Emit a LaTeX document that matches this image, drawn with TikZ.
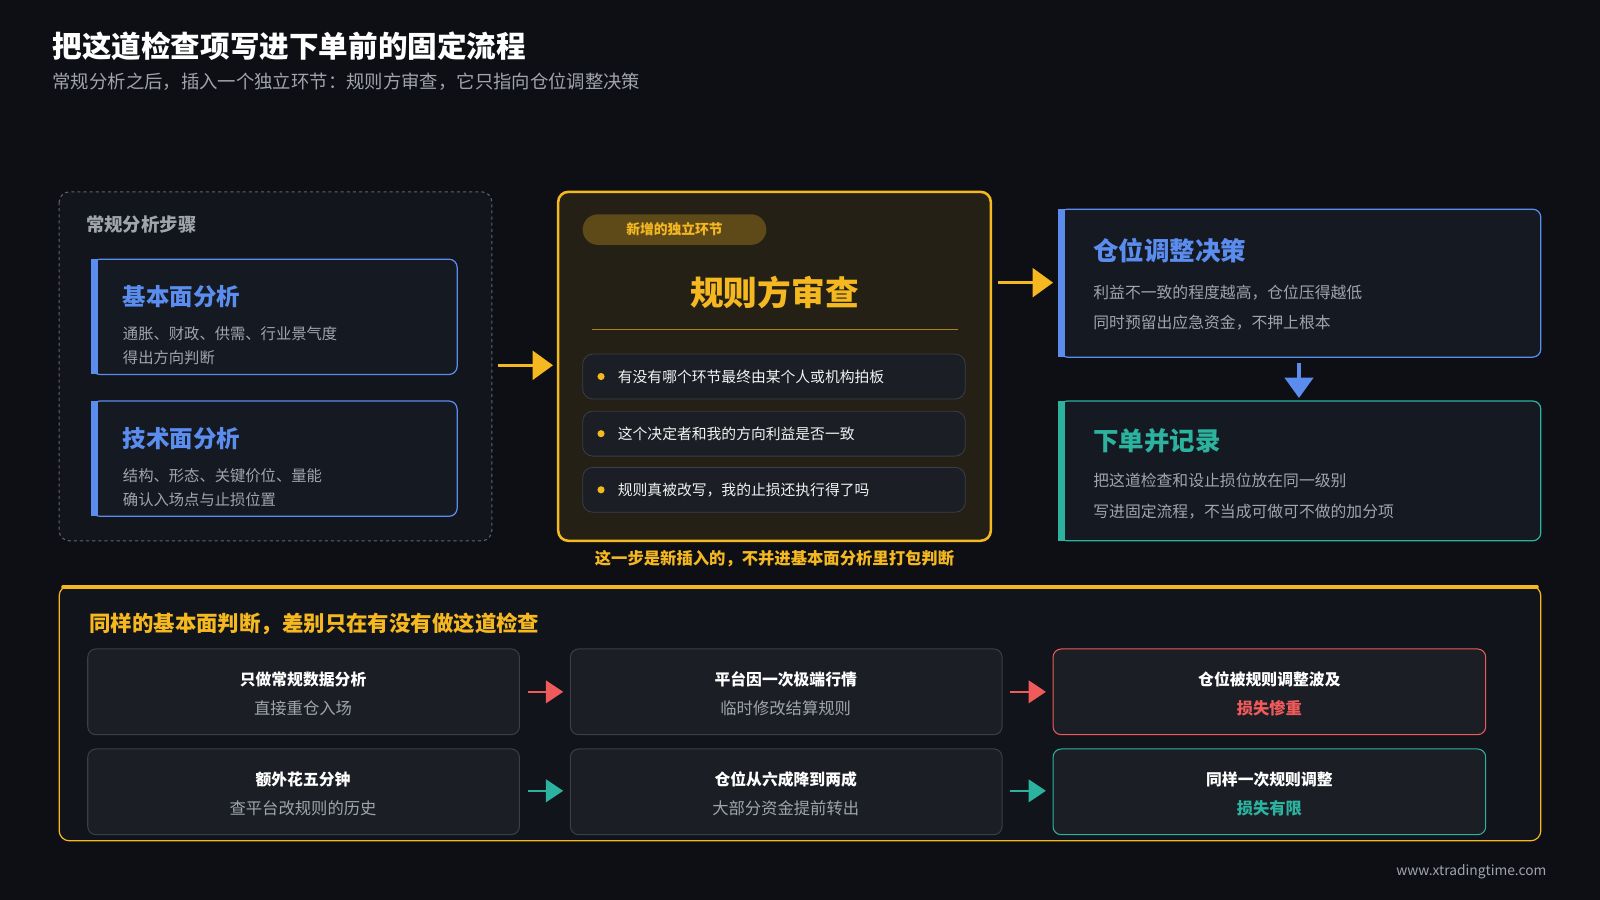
\documentclass[tikz,border=0pt]{standalone}
\usepackage{fontspec}
\setmainfont{Noto Sans CJK SC}
\usetikzlibrary{arrows.meta,positioning}
\definecolor{bgc}{HTML}{0D0F14}
\definecolor{panel}{HTML}{151922}
\definecolor{cell}{HTML}{1B1E25}
\definecolor{bluec}{HTML}{5B8DEF}
\definecolor{yel}{HTML}{F5B820}
\definecolor{tealc}{HTML}{2BB3A0}
\definecolor{redc}{HTML}{EF5A5A}
\definecolor{grayt}{HTML}{A0A4AB}
\definecolor{edge}{HTML}{3A3E47}
\tikzset{
  card/.style={draw=#1, line width=1.2pt, rounded corners=8pt, fill=panel},
  bar/.style={fill=#1},
  cardtitle/.style={anchor=west, font=\bfseries\fontsize{23}{27}\selectfont, text=#1},
  body/.style={anchor=west, font=\fontsize{15}{18}\selectfont, text=grayt},
  item/.style={draw=edge, line width=0.8pt, rounded corners=10pt, fill=cell},
  itemtext/.style={anchor=west, font=\fontsize{14.5}{17}\selectfont, text=white!90!gray},
  sell/.style={draw=#1, line width=1pt, rounded corners=8pt, fill=cell},
  celltop/.style={font=\bfseries\fontsize{15.5}{18}\selectfont, text=white},
  cellbot/.style={font=\fontsize{16}{19}\selectfont, text=#1},
  fat/.style={draw=#1, line width=3.5pt, -{Triangle[length=20pt,width=28pt]}},
}
\begin{document}
\begin{tikzpicture}[x=1pt,y=-1pt]
\useasboundingbox[fill=bgc] (0,0) rectangle (1568,882);

% heading
\node[anchor=west, font=\bfseries\fontsize{29}{33}\selectfont, text=white] (title) at (48,45) {把这道检查项写进下单前的固定流程};
\node[anchor=west, font=\fontsize{18}{21}\selectfont, text=grayt] (subtitle) at (48,80) {常规分析之后，插入一个独立环节：规则方审查，它只指向仓位调整决策};

% regular analysis group
\draw[edge!80!white, dashed, line width=1pt, rounded corners=10pt, fill=panel!60!bgc] (58,188) rectangle (482,530);
\node[anchor=west, font=\bfseries\fontsize{18}{21}\selectfont, text=grayt] (grp) at (81,220) {常规分析步骤};
\draw[card=bluec] (90,254) rectangle (448,367);
\fill[bar=bluec] (89,254) rectangle (96,367);
\node[cardtitle=bluec] (fund) at (117,291) {基本面分析};
\node[body] (fund1) at (117,327) {通胀、财政、供需、行业景气度};
\node[body] (fund2) at (117,351) {得出方向判断};
\draw[card=bluec] (90,393) rectangle (448,506);
\fill[bar=bluec] (89,393) rectangle (96,506);
\node[cardtitle=bluec] (tech) at (117,430) {技术面分析};
\node[body] (tech1) at (117,466) {结构、形态、关键价位、量能};
\node[body] (tech2) at (117,490) {确认入场点与止损位置};

\coordinate (a1) at (488,358);
\coordinate (a2) at (542,358);
\draw[fat=yel] (a1) -- (a2);

% review box
\draw[draw=yel, line width=2.5pt, rounded corners=10pt, fill=yel!10!bgc] (547,188) rectangle (971,530);
\node[fill=yel!35!bgc, rounded corners=15pt, minimum width=180pt, minimum height=30pt, font=\bfseries\fontsize{13.5}{16}\selectfont, text=yel] (tag) at (661,225) {新增的独立环节};
\node[font=\bfseries\fontsize{33}{37}\selectfont, text=yel] (review) at (759,287) {规则方审查};
\draw[yel!70!black, line width=1pt] (580,323) -- (939,323);
\foreach \y/\t in {369/有没有哪个环节最终由某个人或机构拍板, 425/这个决定者和我的方向利益是否一致, 480/规则真被改写，我的止损还执行得了吗}{
  \draw[item] (571,\y-22) rectangle (946,\y+22);
  \fill[yel] (589,\y) circle (3.5pt);
  \node[itemtext] at (602,\y) {\t};
}
\node[font=\bfseries\fontsize{16}{19}\selectfont, text=yel] (note) at (759,548) {这一步是新插入的，不并进基本面分析里打包判断};

\coordinate (b1) at (978,277);
\coordinate (b2) at (1032,277);
\draw[fat=yel] (b1) -- (b2);

% decision
\draw[card=bluec] (1038,205) rectangle (1510,350);
\fill[bar=bluec] (1037,205) rectangle (1044,350);
\node[cardtitle=bluec, font=\bfseries\fontsize{25}{29}\selectfont] (dec) at (1068,246) {仓位调整决策};
\node[body, font=\fontsize{15.5}{18}\selectfont] (dec1) at (1068,287) {利益不一致的程度越高，仓位压得越低};
\node[body, font=\fontsize{15.5}{18}\selectfont] (dec2) at (1068,316) {同时预留出应急资金，不押上根本};

\coordinate (c1) at (1273,356);
\coordinate (c2) at (1273,390);
\draw[draw=bluec, line width=3pt, -{Triangle[length=20pt,width=28pt]}] (c1) -- (c2);

% order
\draw[card=tealc] (1038,393) rectangle (1510,530);
\fill[bar=tealc] (1037,393) rectangle (1044,530);
\node[cardtitle=tealc, font=\bfseries\fontsize{25}{29}\selectfont] (ord) at (1068,432) {下单并记录};
\node[body, font=\fontsize{15.5}{18}\selectfont] (ord1) at (1068,471) {把这道检查和设止损位放在同一级别};
\node[body, font=\fontsize{15.5}{18}\selectfont] (ord2) at (1068,501) {写进固定流程，不当成可做可不做的加分项};

% comparison panel
\draw[draw=yel, line width=1.2pt, rounded corners=10pt, fill=panel!50!bgc] (58,574) rectangle (1510,824);
\draw[yel, line width=4pt, line cap=round] (62,575) -- (1506,575);
\node[anchor=west, font=\bfseries\fontsize{21}{25}\selectfont, text=yel] (cmp) at (84,611) {同样的基本面判断，差别只在有没有做这道检查};

\draw[sell=edge] (86,636) rectangle (509,720);
\node[celltop] (r1a) at (297,666) {只做常规数据分析};
\node[cellbot=grayt] (r1b) at (297,694) {直接重仓入场};
\draw[sell=edge] (559,636) rectangle (982,720);
\node[celltop] (r2a) at (770,666) {平台因一次极端行情};
\node[cellbot=grayt] (r2b) at (770,694) {临时修改结算规则};
\draw[sell=redc] (1032,636) rectangle (1456,720);
\node[celltop] (r3a) at (1244,666) {仓位被规则调整波及};
\node[cellbot=redc, font=\bfseries\fontsize{16}{19}\selectfont] (r3b) at (1244,694) {损失惨重};

\draw[sell=edge] (86,734) rectangle (509,818);
\node[celltop] (s1a) at (297,764) {额外花五分钟};
\node[cellbot=grayt] (s1b) at (297,792) {查平台改规则的历史};
\draw[sell=edge] (559,734) rectangle (982,818);
\node[celltop] (s2a) at (770,764) {仓位从六成降到两成};
\node[cellbot=grayt] (s2b) at (770,792) {大部分资金提前转出};
\draw[sell=tealc] (1032,734) rectangle (1456,818);
\node[celltop] (s3a) at (1244,764) {同样一次规则调整};
\node[cellbot=tealc, font=\bfseries\fontsize{16}{19}\selectfont] (s3b) at (1244,792) {损失有限};

\foreach \xa/\xb/\y/\c in {517/552/678/redc, 990/1025/678/redc, 517/552/775/tealc, 990/1025/775/tealc}{
  \coordinate (p) at (\xa,\y);
  \coordinate (q) at (\xb,\y);
  \draw[draw=\c, line width=2.5pt, -{Triangle[length=17pt,width=22pt]}] (p) -- (q);
}

\node[anchor=east, font=\fontsize{13.5}{16}\selectfont, text=grayt] (site) at (1519,854) {www.xtradingtime.com};
\end{tikzpicture}
\end{document}
